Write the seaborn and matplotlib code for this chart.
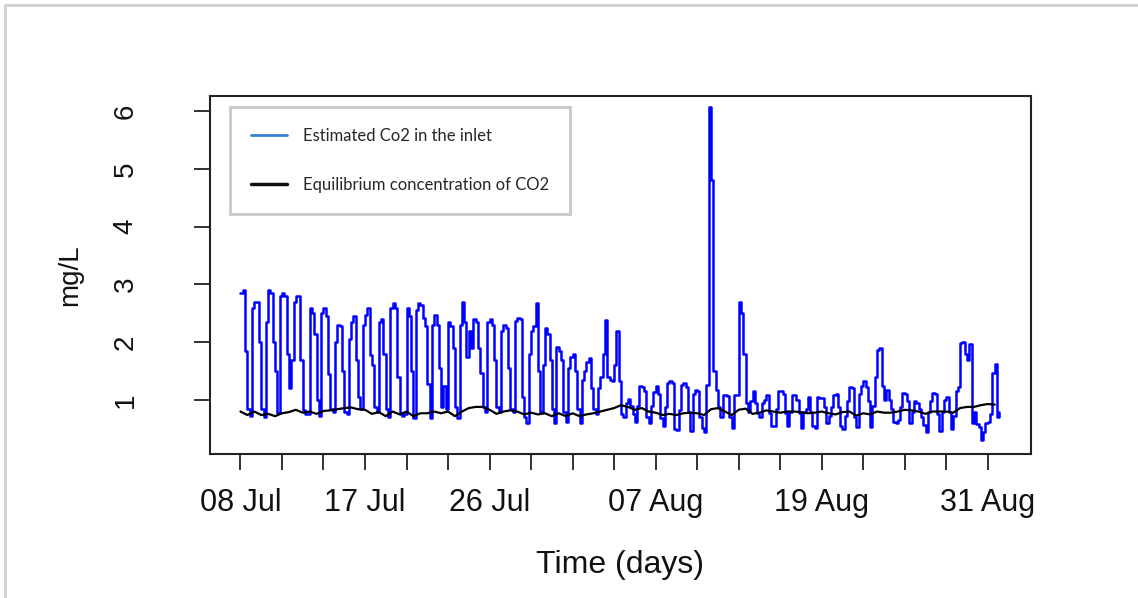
import numpy as np
import matplotlib
matplotlib.use("Agg")
import matplotlib.pyplot as plt
from matplotlib.lines import Line2D
import seaborn as sns

# Estimated CO2 in the inlet (mg/L), 4-hourly readings, one row per day from 08 Jul
co2_inlet = [
    2.85, 2.90, 1.85, 0.85, 0.72, 2.60,
    2.70, 2.70, 2.00, 0.85, 0.70, 2.35,
    2.90, 2.85, 2.00, 1.50, 0.78, 2.80,
    2.85, 2.80, 1.80, 1.20, 1.70, 2.70,
    2.80, 2.80, 1.70, 0.82, 0.75, 0.75,
    2.60, 2.50, 2.15, 1.00, 0.72, 2.50,
    2.60, 2.45, 1.45, 0.85, 0.80, 2.00,
    2.30, 2.28, 1.50, 0.80, 0.75, 2.05,
    2.35, 2.45, 1.70, 1.05, 0.85, 2.30,
    2.47, 2.60, 1.78, 1.60, 0.87, 0.80,
    2.35, 2.40, 1.80, 0.85, 0.70, 2.60,
    2.68, 2.60, 1.40, 0.75, 0.72, 0.75,
    2.60, 2.45, 1.50, 0.68, 2.55, 2.68,
    2.65, 2.42, 2.28, 1.28, 0.68, 2.30,
    2.47, 2.30, 1.56, 0.87, 1.25, 0.85,
    2.35, 2.28, 1.90, 0.87, 0.68, 2.30,
    2.70, 2.35, 1.75, 2.20, 1.90, 2.40,
    2.35, 1.90, 1.46, 0.87, 0.80, 2.35,
    2.40, 2.30, 1.70, 0.87, 0.80, 2.20,
    2.30, 2.25, 1.56, 0.85, 0.80, 2.36,
    2.42, 2.40, 1.06, 0.70, 0.60, 1.80,
    2.20, 2.28, 2.67, 1.50, 0.80, 1.60,
    2.25, 2.15, 1.70, 0.85, 0.60, 1.92,
    1.85, 1.70, 0.80, 0.62, 1.55, 1.75,
    1.80, 1.50, 0.85, 0.60, 1.35, 1.50,
    1.65, 1.72, 1.20, 0.85, 0.75, 1.20,
    1.40, 1.80, 2.38, 1.40, 1.35, 1.33,
    1.60, 2.20, 1.33, 0.75, 0.70, 0.95,
    1.02, 0.90, 0.75, 0.62, 0.90, 1.25,
    1.22, 1.15, 0.70, 0.60, 0.90, 1.13,
    1.25, 1.10, 0.68, 0.55, 0.87, 1.30,
    1.32, 1.30, 0.50, 0.48, 0.82, 1.26,
    1.30, 1.22, 0.80, 0.47, 1.10, 1.17,
    1.15, 0.70, 0.52, 0.45, 1.26, 6.07,
    4.80, 1.50, 1.17, 0.87, 0.70, 1.09,
    1.08, 1.07, 0.70, 0.51, 1.09, 1.09,
    2.70, 2.50, 1.80, 0.95, 0.80, 0.98,
    1.15, 0.95, 0.78, 0.70, 0.95, 1.00,
    1.08, 0.78, 0.55, 0.55, 0.85, 1.15,
    1.15, 1.10, 0.78, 0.55, 0.80, 1.09,
    1.09, 1.00, 0.78, 0.51, 0.80, 0.85,
    1.06, 0.80, 0.55, 0.51, 1.06, 1.04,
    1.04, 0.88, 0.60, 0.72, 0.88, 1.09,
    1.10, 0.88, 0.55, 0.49, 0.72, 0.98,
    1.23, 1.20, 0.71, 0.54, 1.10, 1.25,
    1.32, 1.23, 0.98, 0.54, 0.90, 1.40,
    1.87, 1.90, 1.25, 1.00, 1.17, 1.00,
    0.85, 0.62, 0.60, 0.65, 0.88, 1.12,
    1.10, 0.98, 0.60, 0.80, 0.98, 0.95,
    0.84, 0.71, 0.56, 0.44, 0.80, 0.98,
    1.12, 1.10, 0.75, 0.46, 0.80, 1.00,
    1.06, 0.80, 0.49, 0.72, 1.15, 1.23,
    1.98, 2.00, 1.80, 1.70, 1.96, 0.60,
    0.80, 0.58, 0.54, 0.31, 0.45, 0.60,
    0.62, 0.75, 1.46, 1.63, 0.71, 0.80,
]

# Equilibrium concentration of CO2 (mg/L), twice daily (00:00, 12:00)
co2_equilibrium = [
    0.80, 0.74, 0.80, 0.74, 0.76, 0.72, 0.77, 0.79, 0.83, 0.78,
    0.80, 0.76, 0.81, 0.82, 0.84, 0.86, 0.87, 0.84, 0.83, 0.76,
    0.79, 0.72, 0.80, 0.75, 0.80, 0.72, 0.77, 0.77, 0.80, 0.77,
    0.80, 0.72, 0.80, 0.86, 0.88, 0.88, 0.83, 0.76, 0.80, 0.82,
    0.80, 0.75, 0.78, 0.75, 0.77, 0.72, 0.77, 0.72, 0.77, 0.72,
    0.75, 0.77, 0.80, 0.83, 0.86, 0.91, 0.88, 0.83, 0.86, 0.80,
    0.78, 0.74, 0.76, 0.74, 0.77, 0.78, 0.77, 0.74, 0.84, 0.86,
    0.80, 0.74, 0.83, 0.85, 0.76, 0.78, 0.82, 0.80, 0.78, 0.80,
    0.80, 0.79, 0.77, 0.78, 0.80, 0.77, 0.75, 0.79, 0.80, 0.73,
    0.77, 0.75, 0.80, 0.78, 0.78, 0.80, 0.83, 0.82, 0.80, 0.76,
    0.80, 0.80, 0.80, 0.78, 0.86, 0.88, 0.88, 0.91, 0.93, 0.92,
]

inlet_per_day = 6
equilibrium_per_day = 2

# Date axis: ticks every 3 days from 08 Jul (day 0)
tick_days = [0, 3, 6, 9, 12, 15, 18, 21, 24, 27, 30, 33, 36, 39, 42, 45, 48, 51, 54]
tick_labels = ["08 Jul", "", "", "17 Jul", "", "", "26 Jul", "", "", "",
               "07 Aug", "", "", "", "19 Aug", "", "", "", "31 Aug"]
y_ticks = [1, 2, 3, 4, 5, 6]

legend_labels = ["Estimated Co2 in the inlet", "Equilibrium concentration of CO2"]

sns.set_style("white")
plt.rcParams["font.family"] = ["Liberation Sans", "DejaVu Sans"]

W, H = 1138, 598
fig = plt.figure(figsize=(W / 100, H / 100), dpi=100)
fig.patch.set_facecolor("white")
ax = fig.add_axes([210 / W, 1 - 454.3 / H, 820.7 / W, 358.3 / H])

t_inlet = np.arange(len(co2_inlet)) / inlet_per_day
t_eq = np.arange(len(co2_equilibrium)) / equilibrium_per_day

sns.lineplot(x=t_inlet, y=co2_inlet, ax=ax, color="#0000ff", linewidth=1.8,
             drawstyle="steps-post", legend=False)
sns.lineplot(x=t_eq, y=co2_equilibrium, ax=ax, color="black", linewidth=1.6,
             legend=False)

ax.set_xlim(-2.2, 57.1)
ax.set_ylim(0.06, 6.26)
ax.set_xticks(tick_days)
ax.set_xticklabels(tick_labels)
ax.set_yticks(y_ticks)
ax.set_yticklabels([str(v) for v in y_ticks], rotation=90, va="center")

ax.tick_params(axis="both", direction="out", length=11.5, width=1.3,
               color="#222222", labelcolor="#111111", bottom=True, left=True)
ax.tick_params(axis="x", pad=13, labelsize=22)
ax.tick_params(axis="y", pad=40, labelsize=20)
for s in ax.spines.values():
    s.set_visible(True)
    s.set_color("#222222")
    s.set_linewidth(1.5)

ax.set_xlabel("Time (days)", fontsize=23, color="#111111")
ax.set_ylabel("mg/L", fontsize=20, color="#111111")
ax.xaxis.label.set_va("center")
ax.yaxis.label.set_va("center")
ax.xaxis.set_label_coords(0.5, (454.3 - 565) / 358.3)
ax.yaxis.set_label_coords((70 - 210) / 820.7, 0.5)

handles = [Line2D([], [], color="#3a7fd5", linewidth=2),
           Line2D([], [], color="#111111", linewidth=2.5)]
leg = ax.legend(handles, legend_labels, loc="upper left",
                bbox_to_anchor=(230 / W, 1 - 107 / H), bbox_transform=fig.transFigure,
                borderaxespad=0, frameon=True, fancybox=False, framealpha=1,
                edgecolor="#c8c8c8", prop={"family": "Lato", "size": 12},
                handlelength=2.16, handletextpad=0.96, labelspacing=2.0,
                borderpad=1.26)
leg.get_frame().set_linewidth(2)

# Light page frame along the top and left edges
fig.add_artist(Line2D([5 / W, 1], [1 - 5 / H, 1 - 5 / H], transform=fig.transFigure,
                      color="#d0d0d0", linewidth=2))
fig.add_artist(Line2D([5 / W, 5 / W], [0, 1 - 5 / H], transform=fig.transFigure,
                      color="#d0d0d0", linewidth=2))

fig.savefig("out.png", dpi=100, facecolor="white")
